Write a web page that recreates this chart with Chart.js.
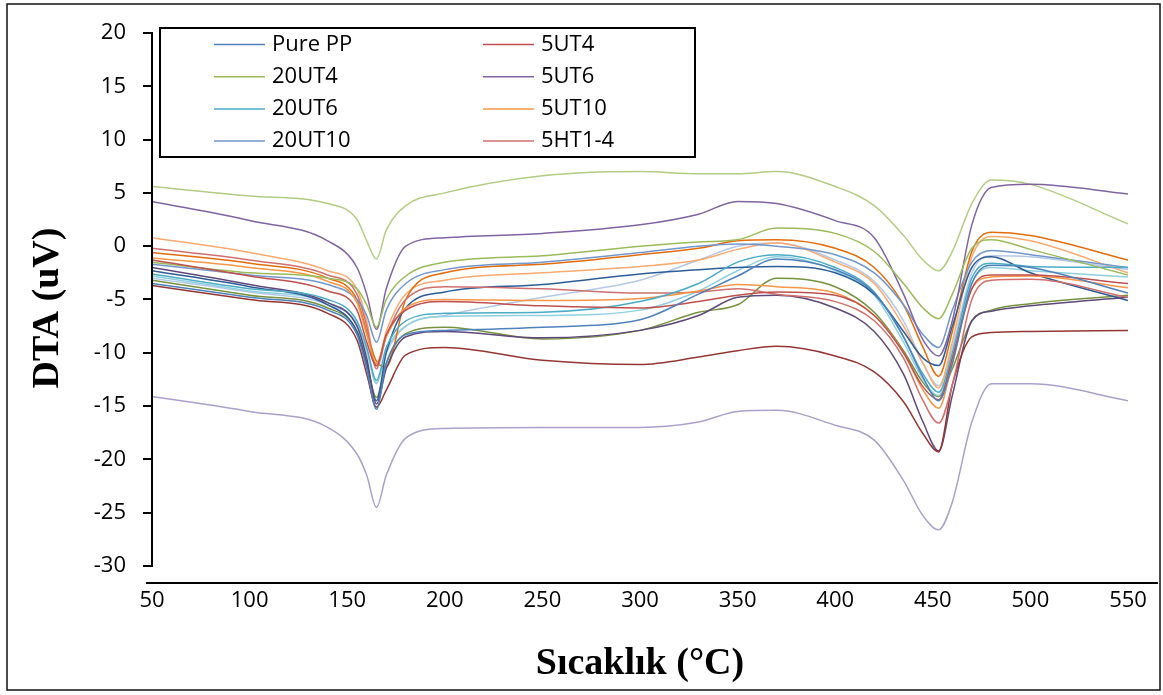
<!DOCTYPE html>
<html>
<head>
<meta charset="utf-8">
<script src="https://cdn.jsdelivr.net/npm/chart.js"></script>
<style>
  body { margin: 0; background: #fff; }
  #wrap { width: 1163px; height: 695px; }
</style>
</head>
<body>
<div id="wrap"><canvas id="dtaChart"></canvas></div>
<script>
const temps = [50, 100, 140, 155, 160, 165, 170, 180, 200, 250, 300, 330, 350, 370, 400, 420, 435, 445, 453, 460, 470, 480, 500, 550];

// DTA (uV), one array per sample
const purePP  = [-3.5, -4.8, -6.0, -8.3, -11.5, -15.3, -11.0, -8.3, -7.9, -7.6, -6.9, -4.5, -2.8, -1.2, -2.2, -4.4, -8.5, -12.3, -14.5, -11.0, -3.5, -1.8, -2.0, -4.4];
const ut4_5   = [-1.3, -2.8, -4.2, -6.0, -9.0, -11.2, -8.3, -6.0, -5.2, -5.6, -5.8, -5.2, -4.6, -4.3, -4.6, -6.5, -10.0, -13.2, -14.4, -10.5, -4.0, -2.7, -2.7, -3.5];
const ut4_20  = [-1.5, -2.5, -3.0, -4.0, -5.5, -7.6, -5.0, -2.8, -1.5, -0.9, 0.0, 0.4, 0.6, 1.7, 1.2, -0.5, -3.5, -5.8, -6.8, -4.5, -0.2, 0.6, -0.3, -2.7];
const ut6_5   = [4.2, 2.4, 0.5, -2.0, -4.5, -7.8, -4.0, 0.0, 0.8, 1.2, 2.0, 3.0, 4.2, 4.0, 2.4, 0.8, -4.5, -8.8, -10.3, -7.0, 2.0, 5.5, 5.8, 4.9];
const ut6_20  = [-2.6, -4.0, -5.0, -7.0, -9.5, -12.6, -9.5, -7.0, -6.3, -6.2, -5.2, -3.5, -1.5, -0.8, -2.0, -4.3, -8.5, -12.0, -13.7, -10.0, -3.0, -1.6, -1.9, -2.0];
const ut10_5  = [-1.1, -2.0, -3.3, -5.3, -8.3, -11.0, -8.5, -5.8, -5.0, -5.1, -4.9, -4.2, -3.6, -3.8, -4.4, -6.5, -10.0, -13.5, -15.2, -11.0, -4.0, -2.9, -2.8, -3.9];
const ut10_20 = [-1.7, -2.7, -3.6, -5.0, -6.5, -9.0, -6.0, -3.5, -2.2, -1.5, -0.6, 0.0, 0.2, 0.0, -0.8, -2.5, -5.5, -8.3, -9.5, -6.0, -1.5, -0.4, -0.8, -2.0];
const ht14_5  = [-0.2, -1.3, -2.7, -4.5, -7.5, -11.5, -8.5, -5.0, -3.8, -4.0, -4.4, -4.3, -4.0, -4.5, -5.2, -7.0, -10.5, -14.5, -16.6, -13.0, -5.0, -3.2, -3.1, -4.8];
// series drawn on the plot but left out of the legend
const seri9   = [5.6, 4.7, 4.0, 2.5, 0.5, -1.2, 1.5, 3.8, 5.0, 6.6, 7.0, 6.8, 6.8, 7.0, 5.6, 3.8, 1.0, -1.3, -2.3, -0.5, 4.0, 6.2, 5.8, 2.1];
const seri10  = [-14.1, -15.5, -17.0, -19.5, -21.5, -24.5, -21.5, -18.0, -17.1, -17.0, -17.0, -16.5, -15.5, -15.4, -16.8, -18.2, -22.0, -25.3, -26.6, -24.0, -16.5, -12.9, -12.9, -14.5];
const seri11  = [-3.7, -5.0, -6.3, -8.8, -12.0, -15.1, -13.5, -10.2, -9.5, -10.7, -11.1, -10.4, -9.8, -9.4, -10.3, -11.8, -14.6, -17.6, -19.3, -13.0, -8.5, -8.1, -8.0, -7.9];
const seri12  = [-2.0, -3.6, -5.3, -7.5, -10.5, -14.8, -11.5, -8.5, -8.0, -8.6, -7.9, -6.5, -4.8, -4.6, -5.8, -8.0, -12.0, -16.5, -19.2, -14.0, -7.0, -6.1, -5.6, -4.8];
const seri13  = [-2.3, -3.8, -5.5, -8.0, -11.0, -14.5, -10.0, -5.8, -4.3, -3.6, -2.6, -2.2, -2.0, -1.9, -2.5, -4.5, -8.0, -10.5, -11.2, -7.5, -2.0, -1.0, -2.5, -5.1];
const seri14  = [-0.6, -1.6, -3.0, -5.0, -8.0, -10.8, -11.3, -5.0, -2.5, -1.7, -0.8, -0.2, 0.5, 0.6, -0.2, -2.0, -5.5, -9.5, -12.2, -8.0, -0.5, 1.3, 1.0, -1.3];
const seri15  = [0.8, -0.6, -2.3, -4.0, -7.0, -11.3, -8.0, -4.5, -3.2, -2.5, -1.9, -1.3, -0.3, 0.3, -1.5, -3.5, -7.5, -11.0, -13.3, -9.0, -1.0, 0.9, 0.5, -2.5];
const seri16  = [-2.8, -4.2, -5.3, -7.3, -9.8, -12.9, -9.8, -7.5, -6.6, -6.5, -6.0, -4.2, -2.3, -1.0, -2.3, -4.6, -9.0, -12.5, -14.0, -10.5, -3.5, -2.0, -2.3, -2.9];
const seri17  = [-3.0, -4.3, -5.5, -7.3, -9.8, -12.8, -10.0, -7.5, -6.5, -4.8, -3.2, -1.3, 0.0, 0.3, -1.3, -3.3, -7.0, -11.0, -13.1, -9.5, -2.5, -0.9, -1.0, -2.2];
const seri18  = [-3.2, -4.6, -5.8, -8.0, -11.0, -14.2, -11.0, -8.2, -7.6, -8.7, -7.9, -6.2, -5.5, -3.0, -3.8, -6.2, -9.8, -12.8, -14.1, -11.5, -7.0, -6.0, -5.4, -4.6];

const seriesNames = ["Pure PP", "5UT4", "20UT4", "5UT6", "20UT6", "5UT10", "20UT10", "5HT1-4",
                     "Seri 9", "Seri 10", "Seri 11", "Seri 12", "Seri 13", "Seri 14", "Seri 15", "Seri 16", "Seri 17", "Seri 18"];
const seriesData = [purePP, ut4_5, ut4_20, ut6_5, ut6_20, ut10_5, ut10_20, ht14_5,
                    seri9, seri10, seri11, seri12, seri13, seri14, seri15, seri16, seri17, seri18];
const seriesColors = ["#4F81BD", "#C0504D", "#9BBB59", "#8064A2", "#4BACC6", "#F79646", "#7297CC", "#D0706E",
                      "#B3CC82", "#ABA0CB", "#943634", "#5F497A", "#2C5D98", "#E46C0A", "#FAAA70", "#8ED0E0", "#B3C9E6", "#76923C"];

const xTicks = [50, 100, 150, 200, 250, 300, 350, 400, 450, 500, 550];
const yTicks = [-30, -25, -20, -15, -10, -5, 0, 5, 10, 15, 20];
const legendCount = 8;

Chart.defaults.font.family = '"Open Sans", sans-serif';
Chart.defaults.color = "#000";

// white page, axis lines, outer frame and the boxed legend
const framePlugin = {
    id: "frame",
    beforeDraw(chart) {
        const ctx = chart.ctx;
        ctx.save();
        ctx.fillStyle = "#fff";
        ctx.fillRect(0, 0, chart.width, chart.height);
        ctx.restore();
    },
    afterDraw(chart) {
        const { ctx, chartArea, scales } = chart;
        const yTop = scales.y.getPixelForValue(yTicks[yTicks.length - 1]);
        const yBot = scales.y.getPixelForValue(yTicks[0]);
        ctx.save();
        ctx.strokeStyle = "#000";
        ctx.lineWidth = 2;
        ctx.beginPath();
        ctx.moveTo(chartArea.left, yTop - 1);
        ctx.lineTo(chartArea.left, yBot + 1);
        ctx.moveTo(chartArea.left - 6, chartArea.bottom);
        ctx.lineTo(chart.width - 5, chartArea.bottom);
        ctx.stroke();

        ctx.lineWidth = 1.5;
        ctx.strokeStyle = "#111";
        ctx.strokeRect(7, 4, chart.width - 10, chart.height - 9);

        // legend
        const bx = 160, by = 28, bw = 535, bh = 129;
        ctx.fillStyle = "#fff";
        ctx.fillRect(bx, by, bw, bh);
        ctx.lineWidth = 2;
        ctx.strokeStyle = "#000";
        ctx.strokeRect(bx, by, bw, bh);
        ctx.font = '22px "Open Sans"';
        ctx.textBaseline = "middle";
        ctx.textAlign = "left";
        chart.data.datasets.slice(0, legendCount).forEach((ds, i) => {
            const col = i % 2, row = Math.floor(i / 2);
            const y = 44.5 + row * 32.2;
            const lx = col === 0 ? 214 : 483;
            ctx.strokeStyle = ds.borderColor;
            ctx.lineWidth = 1.5;
            ctx.beginPath();
            ctx.moveTo(lx, y);
            ctx.lineTo(lx + 51, y);
            ctx.stroke();
            ctx.fillStyle = "#000";
            ctx.fillText(ds.label, lx + 58, y);
        });
        ctx.restore();
    }
};

new Chart(document.getElementById("dtaChart"), {
    type: "line",
    data: {
        datasets: seriesData.map((vals, i) => ({
            label: seriesNames[i],
            data: temps.map((t, j) => ({ x: t, y: vals[j] })),
            borderColor: seriesColors[i],
            borderWidth: 1.5,
            pointRadius: 0,
            tension: 0.4,
            cubicInterpolationMode: "monotone",
            fill: false
        }))
    },
    options: {
        responsive: true,
        maintainAspectRatio: false,
        animation: false,
        layout: { padding: { top: 33, right: 35, left: 0, bottom: 0 } },
        plugins: {
            legend: { display: false },
            tooltip: { enabled: false }
        },
        scales: {
            x: {
                type: "linear",
                min: 50,
                max: 550,
                afterBuildTicks: s => { s.ticks = xTicks.map(v => ({ value: v })); },
                afterFit: s => { s.height = 112; },
                grid: { display: false, drawTicks: false },
                border: { display: false },
                ticks: { font: { size: 22 }, color: "#000", padding: 5, maxRotation: 0 },
                title: {
                    display: true,
                    text: "Sıcaklık (°C)",
                    color: "#000",
                    font: { family: '"Liberation Serif", "Times New Roman", serif', size: 38, weight: "bold" },
                    padding: { top: 0, bottom: 8 }
                }
            },
            y: {
                min: -31.6,
                max: 20,
                afterBuildTicks: s => { s.ticks = yTicks.map(v => ({ value: v })); },
                afterFit: s => { s.width = 152; },
                grid: { display: true, drawOnChartArea: false, drawTicks: true, tickLength: 9, color: "#000", lineWidth: 2 },
                border: { display: false },
                ticks: { font: { size: 22 }, color: "#000", padding: 17 },
                title: {
                    display: true,
                    text: "DTA (uV)",
                    color: "#000",
                    font: { family: '"Liberation Serif", "Times New Roman", serif', size: 38, weight: "bold" },
                    padding: { top: 25, bottom: 0 }
                }
            }
        }
    },
    plugins: [framePlugin]
});
</script>
</body>
</html>
